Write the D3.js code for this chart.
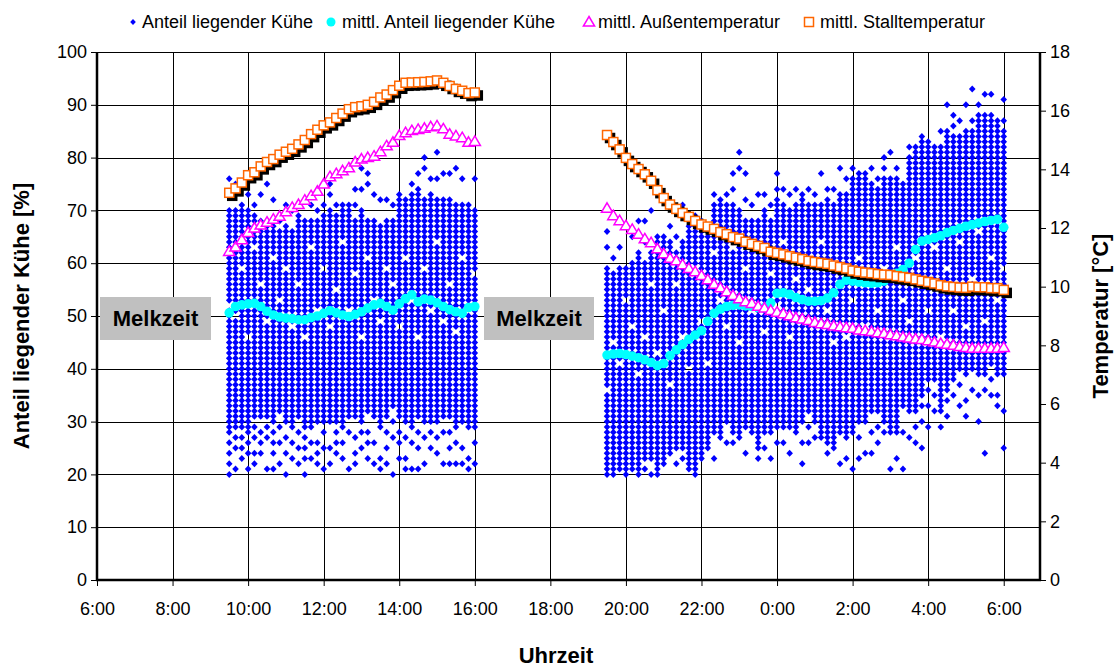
<!DOCTYPE html>
<html>
<head>
<meta charset="utf-8">
<script src="https://cdn.jsdelivr.net/npm/d3@7"></script>
<style>
  body { margin: 0; background: #fff; }
  text { font-family: "Liberation Sans", Arial, sans-serif; }
</style>
</head>
<body>
<svg id="chart" width="1117" height="668"></svg>
<script>
// time columns: one every 10 minutes, hours counted from 0:00 of day 1
const dayStart = 9.5
const nightStart = 19.5
const step = 10 / 60

// occupied percentage levels per 10-min column ("a-b" = every level a..b)
const dayLying = [
  '20 22 24 26 28-51 53-70 73 76', '21 25 27 29-49 51-70 75', '23 25 27 29-58 60-70 71',
  '21 24 26 28-45 47-70 73', '22 24 27 29 31-62 64-69 71', '24 26 28 31-55 57-68 73',
  '21 27 29 31-48 50-68 75', '21 24 26 28 30-60 62-67 72', '22 26 29 32-52 54-66 68',
  '20 24 27 30-58 60-67 71', '23 26 29-47 49-66 70', '22 25 28 31-55 57-68 69',
  '20 23 25 27 29-45 47-68', '23 26 29-62 64-68 71', '22 24 26 30-50 52-68 70',
  '21 25 28 30-58 60-69 71', '22 25 30-47 49-70 73 75', '24 26 28 30-54 56-69 71',
  '23 26 29-63 65-70 71', '21 28 31-50 52-70 71', '22 24 27 31-57 59-68 71 74',
  '25 28 30-45 47-70 74 78', '23 26 28 32-60 62-68 75 77', '22 26 31-52 54-68 73',
  '21 23 29-48 50-67 72', '22 25 28 31-58 60-68 72', '20 27 30 33-55 57-68 71',
  '23 26 28 31-47 49-72 73', '21 23 27 30-60 62-71 72', '21 26 29-52 54-73 75',
  '21 25 28 31-45 47-74 77', '22 27 30-58 60-72 78 80', '25 28 30-50 52-73 76',
  '24 27 30-63 65-72 76 81', '22 28 31-48 50-72 77', '22 25 28 31-55 57-72 77',
  '22 26 29-46 48-71 78', '22 25 30-60 62-71 76', '21 23 29-50 52-70 71',
  '22 26 29-57 59-70 76'
]
const nightLying = [
  '20-35 37-59 63 66', '20-44 46-58 61', '21-40 42-59 63', '20-52 54-59',
  '21-47 49-60 65', '20-38 40-62 68', '21 23-45 47-60 64 68', '20 23-55 57-62 70',
  '20-42 44-65', '22-50 52-65', '24-36 38-64 67', '22 25-55 57-62 65',
  '23 25-45 47-64 71', '21-39 41-67', '20-58 60-69', '23-48 50-68',
  '25-40 42-67', '23 28-61 63-71 73', '27-52 54-72', '26 30-47 49-71 73',
  '26 28-62 64-71 74 77', '27-44 46-70 78 81', '24 29-58 60-68 72 77', '28-50 52-68 71',
  '23 25-62 64-68 73', '25 28-46 48-70 73', '23 28-57 59-68 71', '26 29-51 53-72 74 77',
  '26 29-63 65-71 74', '24 29-45 47-70 73', '28-56 58-71 74', '22 26 30-60 62-73',
  '26 29 32-54 56-71 74', '27 30-48 50-71 73', '27-63 65-71 77', '24 26-50 52-72 74',
  '25-44 46-71 74', '22 28-58 60-72 73 78', '23 27-45 47-73 76', '21 28-52 54-76 78',
  '23 27 30-60 62-76 77', '24 30-47 49-76 77', '24 28 32-55 57-75 78', '26 29 32-50 52-74 76',
  '28 30-58 60-76 78 80', '21 28-45 47-76 81', '23 28-62 64-76 78', '21 28 33-52 54-75',
  '27 32-48 50-80 82', '26 29 32-60 62-81 82', '25 30 33 35-55 57-83 84', '29 33 36 38-50 52-82 83',
  '32 35 38-62 64-81 82', '29 32-45 47-82 85', '31 34 36-58 60-85 90', '35 38-50 52-84 86 88',
  '33 37 40-63 65-84 87', '31 34 39-47 49-85 90', '36 40-56 58-85 87 93', '30 35 39-65 67-88 90',
  '24 36 39-48 50-88 92', '35 38 41-60 62-88 92', '33 35 39-52 54-86 87', '25 32 39-58 60-85 87 91'
]

// mittl. Anteil liegender Kühe [%]
const dayMeanLying = [
  50.6, 51.8, 52.1, 52.3, 52.4, 51.8, 50.9, 50.2, 49.8, 49.6,
  49.5, 49.3, 49.3, 49.7, 50.0, 50.5, 51.0, 50.6, 50.2, 49.9,
  50.3, 50.8, 51.5, 52.1, 52.4, 51.8, 51.1, 52.3, 53.3, 54.0,
  52.7, 53.2, 53.0, 52.5, 51.8, 51.2, 50.8, 50.5, 51.6, 51.8
]
const nightMeanLying = [
  42.6, 42.8, 42.9, 42.7, 42.4, 42.1, 41.7, 41.2, 40.6, 41.0,
  42.5, 43.6, 44.6, 45.6, 46.4, 47.2, 49.0, 50.5, 51.3, 51.8,
  52.0, 52.1, 51.9, 51.8, 51.6, 51.6, 52.5, 54.3, 54.4, 54.1,
  53.5, 53.1, 52.8, 52.8, 52.9, 53.4, 54.4, 56.0, 56.8, 56.6,
  56.4, 56.3, 56.2, 56.3, 56.6, 57.3, 58.1, 58.8, 60.0, 62.6,
  64.2, 64.5, 64.8, 65.2, 65.8, 66.2, 66.6, 67.0, 67.3, 67.6,
  67.9, 68.1, 68.3, 66.8
]

// mittl. Außentemperatur [°C]
const dayOutside = [
  11.2, 11.35, 11.6, 11.85, 12.0, 12.1, 12.2, 12.3, 12.4, 12.55,
  12.7, 12.8, 12.95, 13.1, 13.25, 13.5, 13.75, 13.85, 13.95, 14.05,
  14.25, 14.35, 14.4, 14.45, 14.6, 14.8, 14.92, 15.15, 15.25, 15.32,
  15.36, 15.4, 15.45, 15.48, 15.38, 15.2, 15.14, 15.08, 14.92, 14.95
]
const nightOutside = [
  12.67, 12.42, 12.25, 12.08, 11.95, 11.79, 11.63, 11.5, 11.29, 11.12,
  10.97, 10.88, 10.75, 10.62, 10.51, 10.38, 10.24, 10.08, 9.96, 9.83,
  9.7, 9.59, 9.49, 9.43, 9.33, 9.27, 9.19, 9.13, 9.08, 9.01,
  8.94, 8.9, 8.85, 8.78, 8.74, 8.71, 8.66, 8.63, 8.6, 8.58,
  8.52, 8.5, 8.47, 8.43, 8.4, 8.36, 8.33, 8.28, 8.25, 8.22,
  8.2, 8.16, 8.11, 8.06, 8.04, 8.0, 7.96, 7.93, 7.9, 7.9,
  7.9, 7.9, 7.9, 7.93
]

// mittl. Stalltemperatur [°C]
const dayBarn = [
  13.2, 13.35, 13.55, 13.8, 13.9, 14.1, 14.25, 14.35, 14.5, 14.6,
  14.7, 14.85, 15.0, 15.2, 15.35, 15.5, 15.6, 15.75, 15.9, 16.05,
  16.12, 16.15, 16.2, 16.3, 16.45, 16.55, 16.7, 16.85, 16.95, 16.96,
  16.97, 16.98, 17.0, 17.03, 16.95, 16.84, 16.74, 16.68, 16.6, 16.62
]
const nightBarn = [
  15.17, 14.93, 14.68, 14.39, 14.18, 14.01, 13.83, 13.61, 13.29, 13.02,
  12.8, 12.65, 12.51, 12.38, 12.24, 12.12, 12.05, 11.97, 11.86, 11.79,
  11.69, 11.64, 11.53, 11.46, 11.39, 11.32, 11.19, 11.15, 11.1, 11.04,
  10.99, 10.94, 10.88, 10.84, 10.81, 10.78, 10.72, 10.67, 10.62, 10.55,
  10.51, 10.48, 10.46, 10.43, 10.41, 10.4, 10.36, 10.33, 10.3, 10.25,
  10.2, 10.16, 10.11, 10.05, 10.01, 9.99, 9.97, 9.96, 10.0, 9.98,
  9.98, 9.95, 9.95, 9.89
]

const xTicks = [6, 8, 10, 12, 14, 16, 18, 20, 22, 24, 26, 28, 30]
const xTickLabels = ['6:00', '8:00', '10:00', '12:00', '14:00', '16:00', '18:00',
  '20:00', '22:00', '0:00', '2:00', '4:00', '6:00']
const leftTicks = [0, 10, 20, 30, 40, 50, 60, 70, 80, 90, 100]
const rightTicks = [0, 2, 4, 6, 8, 10, 12, 14, 16, 18]
const milkingLabel = 'Melkzeit'

const parseLevels = s => s.split(' ').flatMap(tok => {
  const [a, b] = tok.split('-').map(Number)
  return b === undefined ? [a] : d3.range(a, b + 1)
})

const toPoints = (arr, start) => arr.map((v, i) => ({ t: start + i * step, v }))

const cloud = []
dayLying.forEach((s, i) => parseLevels(s).forEach(v => cloud.push({ t: dayStart + i * step, v })))
nightLying.forEach((s, i) => parseLevels(s).forEach(v => cloud.push({ t: nightStart + i * step, v })))

const meanLying = toPoints(dayMeanLying, dayStart).concat(toPoints(nightMeanLying, nightStart))
const outside = toPoints(dayOutside, dayStart).concat(toPoints(nightOutside, nightStart))
const barn = toPoints(dayBarn, dayStart).concat(toPoints(nightBarn, nightStart))

const svg = d3.select('#chart')
svg.append('rect').attr('width', 1117).attr('height', 668).attr('fill', '#fff')

const margin = { top: 52, right: 77, bottom: 88, left: 97 }
const width = 1117 - margin.left - margin.right
const height = 668 - margin.top - margin.bottom

const x = d3.scaleLinear().domain([6, 30.96]).range([0, width])
const yL = d3.scaleLinear().domain([0, 100]).range([height, 0])
const yR = d3.scaleLinear().domain([0, 18]).range([height, 0])

const g = svg.append('g').attr('transform', `translate(${margin.left},${margin.top})`)

// gridlines
g.append('g')
  .selectAll('line')
  .data(leftTicks.filter(d => d > 0))
  .enter()
  .append('line')
  .attr('x1', 0)
  .attr('x2', width)
  .attr('y1', d => Math.round(yL(d)) + 0.5)
  .attr('y2', d => Math.round(yL(d)) + 0.5)
  .attr('stroke', '#000')
  .attr('stroke-width', 1)

g.append('g')
  .selectAll('line')
  .data(xTicks.filter(d => d > 6))
  .enter()
  .append('line')
  .attr('x1', d => Math.round(x(d)) + 0.5)
  .attr('x2', d => Math.round(x(d)) + 0.5)
  .attr('y1', 0)
  .attr('y2', height)
  .attr('stroke', '#000')
  .attr('stroke-width', 1)

// Melkzeit boxes
const milking = [{ x0: 3, x1: 114 }, { x0: 387, x1: 497 }]
const mk = g.append('g')
milking.forEach(m => {
  mk.append('rect')
    .attr('x', m.x0)
    .attr('y', yL(53.6))
    .attr('width', m.x1 - m.x0)
    .attr('height', 43)
    .attr('fill', '#c0c0c0')
  mk.append('text')
    .attr('x', (m.x0 + m.x1) / 2)
    .attr('y', yL(53.6) + 29)
    .attr('text-anchor', 'middle')
    .attr('font-weight', 'bold')
    .attr('font-size', '22px')
    .text(milkingLabel)
})

// scatter cloud
const diamond = 'M0,-3.5L3.3,0L0,3.5L-3.3,0Z'
g.append('g')
  .selectAll('path')
  .data(cloud)
  .enter()
  .append('path')
  .attr('d', diamond)
  .attr('transform', d => `translate(${x(d.t)},${yL(d.v)})`)
  .attr('fill', '#0000ff')

// mean lying
g.append('g')
  .selectAll('circle')
  .data(meanLying)
  .enter()
  .append('circle')
  .attr('cx', d => x(d.t))
  .attr('cy', d => yL(d.v))
  .attr('r', 4.8)
  .attr('fill', '#00ffff')

// outside temperature
const triangle = 'M0,-5.5L5.6,4L-5.6,4Z'
g.append('g')
  .selectAll('path')
  .data(outside)
  .enter()
  .append('path')
  .attr('d', triangle)
  .attr('transform', d => `translate(${x(d.t)},${yR(d.v)})`)
  .attr('fill', '#fff')
  .attr('stroke', '#ff00ff')
  .attr('stroke-width', 1.5)

// barn temperature with shadow
g.append('g')
  .selectAll('rect')
  .data(barn)
  .enter()
  .append('rect')
  .attr('x', d => x(d.t) - 4.5 + 3)
  .attr('y', d => yR(d.v) - 4.5 + 3)
  .attr('width', 9)
  .attr('height', 9)
  .attr('fill', '#000')
  .attr('stroke', '#000')
  .attr('stroke-width', 1.5)

g.append('g')
  .selectAll('rect')
  .data(barn)
  .enter()
  .append('rect')
  .attr('x', d => x(d.t) - 4.5)
  .attr('y', d => yR(d.v) - 4.5)
  .attr('width', 9)
  .attr('height', 9)
  .attr('fill', '#fff')
  .attr('stroke', '#ff6600')
  .attr('stroke-width', 1.5)

// axes
const styleAxis = sel => {
  sel.select('.domain').remove()
  sel.selectAll('line').attr('stroke', '#000')
  sel.selectAll('text').attr('font-size', '18px').attr('fill', '#000')
    .attr('font-family', '"Liberation Sans", Arial, sans-serif')
}

g.append('g')
  .attr('transform', `translate(0,${height})`)
  .call(d3.axisBottom(x).tickValues(xTicks).tickFormat((d, i) => xTickLabels[i]).tickSize(6).tickPadding(16))
  .call(styleAxis)

g.append('g')
  .call(d3.axisLeft(yL).tickValues(leftTicks).tickSize(6).tickPadding(4))
  .call(styleAxis)

g.append('g')
  .attr('transform', `translate(${width},0)`)
  .call(d3.axisRight(yR).tickValues(rightTicks).tickSize(6).tickPadding(4))
  .call(styleAxis)

// axis lines
g.append('line').attr('x1', 0).attr('x2', 0).attr('y1', 0).attr('y2', height + 1)
  .attr('stroke', '#000').attr('stroke-width', 2.5)
g.append('line').attr('x1', width).attr('x2', width).attr('y1', 0).attr('y2', height + 1)
  .attr('stroke', '#000').attr('stroke-width', 2.5)
g.append('line').attr('x1', -1).attr('x2', width + 1).attr('y1', height).attr('y2', height)
  .attr('stroke', '#000').attr('stroke-width', 2.5)

// axis titles
svg.append('text')
  .attr('transform', `translate(29,${margin.top + height / 2}) rotate(-90)`)
  .attr('text-anchor', 'middle')
  .attr('font-weight', 'bold')
  .attr('font-size', '22px')
  .text('Anteil liegender Kühe [%]')

svg.append('text')
  .attr('transform', `translate(1108,${margin.top + height / 2}) rotate(-90)`)
  .attr('text-anchor', 'middle')
  .attr('font-weight', 'bold')
  .attr('font-size', '22px')
  .text('Temperatur [°C]')

svg.append('text')
  .attr('x', 556)
  .attr('y', 663)
  .attr('text-anchor', 'middle')
  .attr('font-weight', 'bold')
  .attr('font-size', '22px')
  .text('Uhrzeit')

// legend
const legend = svg.append('g').attr('transform', 'translate(0,22)')
const legendItems = [
  { label: 'Anteil liegender Kühe', mx: 133, tx: 142, kind: 'diamond' },
  { label: 'mittl. Anteil liegender Kühe', mx: 331, tx: 342, kind: 'circle' },
  { label: 'mittl. Außentemperatur', mx: 589, tx: 598, kind: 'triangle' },
  { label: 'mittl. Stalltemperatur', mx: 809, tx: 820, kind: 'square' }
]
legendItems.forEach(d => {
  if (d.kind === 'diamond') {
    legend.append('path').attr('d', 'M0,-3L2.8,0L0,3L-2.8,0Z')
      .attr('transform', `translate(${d.mx},0)`).attr('fill', '#0000ff')
  }
  if (d.kind === 'circle') {
    legend.append('circle').attr('cx', d.mx).attr('cy', 0).attr('r', 4.5).attr('fill', '#00ffff')
  }
  if (d.kind === 'triangle') {
    legend.append('path').attr('d', triangle)
      .attr('transform', `translate(${d.mx},0)`)
      .attr('fill', '#fff').attr('stroke', '#ff00ff').attr('stroke-width', 1.5)
  }
  if (d.kind === 'square') {
    legend.append('rect').attr('x', d.mx - 4.5).attr('y', -4.5).attr('width', 9).attr('height', 9)
      .attr('fill', '#fff').attr('stroke', '#ff6600').attr('stroke-width', 1.5)
  }
  legend.append('text')
    .attr('x', d.tx)
    .attr('y', 6)
    .attr('font-size', '18px')
    .text(d.label)
})
</script>
</body>
</html>
